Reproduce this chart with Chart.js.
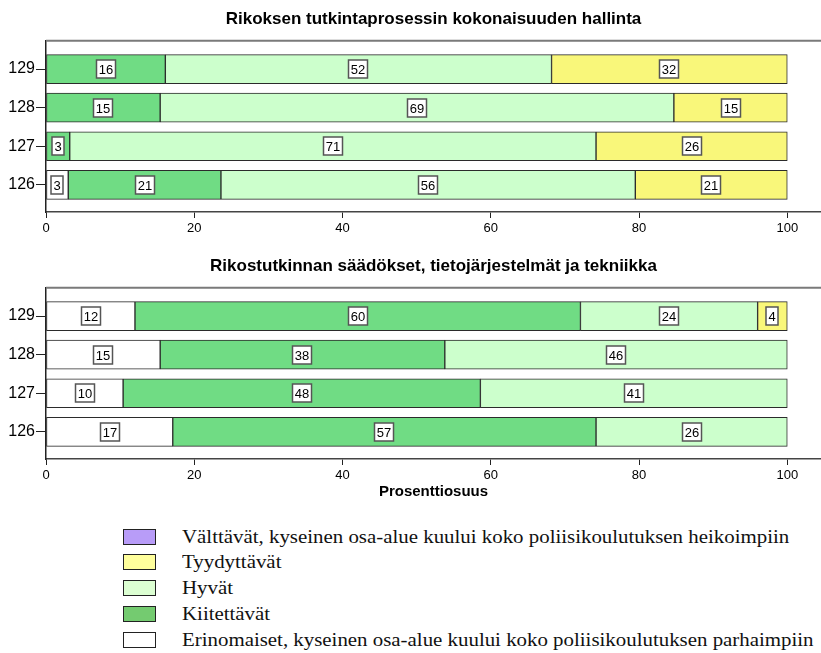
<!DOCTYPE html>
<html>
<head>
<meta charset="utf-8">
<script src="https://cdn.jsdelivr.net/npm/chart.js@4"></script>
<style>
  body { margin: 0; background: #fff; width: 821px; height: 653px; position: relative; overflow: hidden; }
  #c1 { position: absolute; left: 0; top: 0; }
  #c2 { position: absolute; left: 0; top: 245px; }
  #legend { position: absolute; left: 123px; top: 528.5px; font-family: "Liberation Serif", "Times New Roman", serif; font-size: 18px; color: #111; }
  .row { height: 25.8px; display: flex; align-items: flex-start; }
  .sw { width: 31px; height: 14px; border: 1px solid #222; flex: none; }
  .txt { margin-left: 26px; line-height: 16px; white-space: nowrap; transform: scaleX(1.16); transform-origin: left center; }
</style>
</head>
<body>
<canvas id="c1" width="821" height="245"></canvas>
<canvas id="c2" width="821" height="265"></canvas>
<div id="legend"></div>
<script>
const labels = ['129', '128', '127', '126'];
const xTicks = [0, 20, 40, 60, 80, 100];
const seriesNames = [
  'Erinomaiset, kyseinen osa-alue kuului koko poliisikoulutuksen parhaimpiin',
  'Kiitettävät',
  'Hyvät',
  'Tyydyttävät',
  'Välttävät, kyseinen osa-alue kuului koko poliisikoulutuksen heikoimpiin'
];
const barColors = ['#ffffff', '#70dc84', '#ccffcc', '#f9f77a', '#b89cf8'];
const legendColors = ['#ffffff', '#74cb70', '#dcffd2', '#ffff9c', '#b89cf8'];

// Rikoksen tutkintaprosessin kokonaisuuden hallinta
const title1 = 'Rikoksen tutkintaprosessin kokonaisuuden hallinta';
const erinomaiset1 = [0, 0, 0, 3.0];
const kiitettavat1 = [16.1, 15.4, 3.2, 20.6];
const hyvat1 = [52.1, 69.3, 71.0, 55.9];
const tyydyttavat1 = [31.8, 15.3, 25.8, 20.5];
const valttavat1 = [0, 0, 0, 0];

// Rikostutkinnan säädökset, tietojärjestelmät ja tekniikka
const title2 = 'Rikostutkinnan säädökset, tietojärjestelmät ja tekniikka';
const erinomaiset2 = [12.0, 15.4, 10.4, 17.1];
const kiitettavat2 = [60.1, 38.4, 48.2, 57.1];
const hyvat2 = [23.9, 46.2, 41.4, 25.8];
const tyydyttavat2 = [4.0, 0, 0, 0];
const valttavat2 = [0, 0, 0, 0];

const FONT = '"Liberation Sans", Arial, sans-serif';

// white boxes with the rounded value in the middle of each segment
const boxLabels = {
  id: 'boxLabels',
  afterDatasetsDraw(chart) {
    const ctx = chart.ctx;
    ctx.save();
    ctx.font = '13px ' + FONT;
    ctx.textAlign = 'center';
    ctx.textBaseline = 'middle';
    chart.data.datasets.forEach((ds, di) => {
      chart.getDatasetMeta(di).data.forEach((bar, i) => {
        const v = ds.data[i].x;
        if (!v) return;
        const txt = String(Math.round(v));
        const cx = Math.round((bar.x + bar.base) / 2);
        const cy = Math.round(bar.y);
        const w = Math.round(ctx.measureText(txt).width + 5);
        const h = 18;
        ctx.fillStyle = '#fff';
        ctx.fillRect(cx - w / 2, cy - h / 2, w, h);
        ctx.strokeStyle = '#555';
        ctx.lineWidth = 1.5;
        ctx.strokeRect(cx - w / 2, cy - h / 2, w, h);
        ctx.fillStyle = '#000';
        ctx.fillText(txt, cx, cy + 1);
      });
    });
    ctx.restore();
  }
};

// top frame line of the plot
const topLine = {
  id: 'topLine',
  beforeDatasetsDraw(chart) {
    const { ctx, chartArea } = chart;
    ctx.save();
    ctx.strokeStyle = '#7a7a7a';
    ctx.lineWidth = 2;
    ctx.beginPath();
    ctx.moveTo(chartArea.left, chartArea.top);
    ctx.lineTo(chartArea.right, chartArea.top);
    ctx.stroke();
    ctx.restore();
  }
};

function makeChart(id, title, series, titlePadTop, xHeight, axisTitle) {
  const datasets = series.map((vals, k) => ({
    label: seriesNames[k],
    data: vals.map((v, i) => ({ x: v, y: i })),
    backgroundColor: barColors[k],
    borderColor: '#2b2b2b',
    borderWidth: 1,
    borderSkipped: false,
    barThickness: 29
  }));
  return new Chart(document.getElementById(id), {
    type: 'bar',
    data: { datasets },
    plugins: [boxLabels, topLine],
    options: {
      indexAxis: 'y',
      responsive: false,
      maintainAspectRatio: false,
      animation: false,
      devicePixelRatio: 1,
      layout: { padding: 0 },
      plugins: {
        legend: { display: false },
        tooltip: { enabled: false },
        title: {
          display: true,
          fullSize: false,
          text: title,
          color: '#000',
          font: { family: FONT, size: 17, weight: 'bold' },
          padding: { top: titlePadTop, bottom: 11.5 }
        }
      },
      scales: {
        x: {
          type: 'linear',
          stacked: true,
          min: 0,
          max: 104.55,
          afterBuildTicks: s => { s.ticks = xTicks.map(v => ({ value: v })); },
          afterFit: s => { s.height = xHeight; },
          ticks: { color: '#000', font: { family: FONT, size: 13 }, padding: 3, autoSkip: false, maxRotation: 0 },
          grid: { drawOnChartArea: false, drawTicks: true, tickLength: 6, color: '#222', lineWidth: 1 },
          border: { display: true, color: '#444', width: 1.5 },
          title: axisTitle ? {
            display: true,
            text: axisTitle,
            color: '#000',
            font: { family: FONT, size: 15, weight: 'bold' },
            padding: { top: 0, bottom: 9 }
          } : { display: false }
        },
        y: {
          type: 'linear',
          stacked: true,
          reverse: true,
          offset: false,
          min: -0.735,
          max: 3.705,
          afterBuildTicks: s => { s.ticks = labels.map((_, i) => ({ value: i })); },
          afterFit: s => { s.width = 46; },
          ticks: {
            color: '#000',
            font: { family: FONT, size: 16 },
            padding: 1,
            autoSkip: false,
            callback: v => labels[v]
          },
          grid: { offset: false, drawOnChartArea: false, drawTicks: true, tickLength: 10, color: '#222', lineWidth: 1 },
          border: { display: true, color: '#222', width: 1.5 }
        }
      }
    }
  });
}

makeChart('c1', title1, [erinomaiset1, kiitettavat1, hyvat1, tyydyttavat1, valttavat1], 8.8, 33, null);
makeChart('c2', title2, [erinomaiset2, kiitettavat2, hyvat2, tyydyttavat2, valttavat2], 10.8, 51, 'Prosenttiosuus');

// legend, worst grade first
const legend = document.getElementById('legend');
for (let k = seriesNames.length - 1; k >= 0; k--) {
  const row = document.createElement('div');
  row.className = 'row';
  row.innerHTML = '<div class="sw" style="background:' + legendColors[k] + '"></div><div class="txt">' + seriesNames[k] + '</div>';
  legend.appendChild(row);
}
</script>
</body>
</html>
